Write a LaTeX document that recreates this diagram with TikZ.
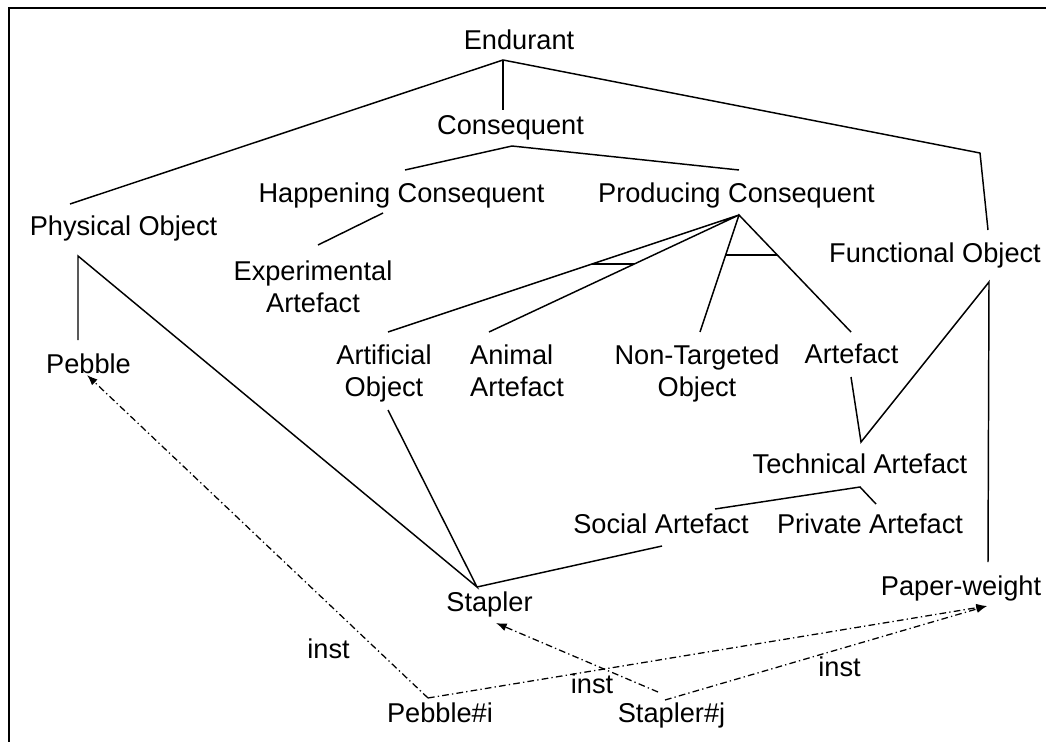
\documentclass[tikz,border=0pt]{standalone}
\usepackage{fontspec}
\setmainfont{Liberation Sans}
\usetikzlibrary{arrows.meta,calc}
\begin{document}
\begin{tikzpicture}[x=0.75pt,y=-0.75pt,
  lbl/.style={font=\fontsize{20.4}{24}\selectfont, inner sep=0pt, anchor=base},
  lbl2/.style={lbl, align=center},
  tree/.style={line width=1.1pt, line join=miter},
  instof/.style={line width=0.95pt, dash pattern=on 5pt off 2.4pt on 1pt off 2.4pt,
                 -{Latex[length=8pt,width=6pt]}},
  frame/.style={line width=1.3pt}]
\useasboundingbox (0,0) rectangle (1046,742);

% open frame
\draw[frame] (9,742) -- (9,8) -- (1046,8);

% class labels (two-line labels sit on the baseline of their last line)
\node[lbl] (endurant) at (519,50) {Endurant};
\node[lbl] (conseq) at (510.5,134) {Consequent};
\node[lbl] (happ) at (401.5,202) {Happening Consequent};
\node[lbl] (prod) at (736.5,202) {Producing Consequent};
\node[lbl] (phys) at (123.5,235) {Physical Object};
\node[lbl] (func) at (935,262) {Functional Object};
\node[lbl2] (expart) at (313,312) {Experimental\\Artefact};
\node[lbl] (pebble) at (88.5,373) {Pebble};
\node[lbl2] (artobj) at (384,396) {Artificial\\Object};
\node[lbl, align=left] (animal) at (517,396) {Animal\\Artefact};
\node[lbl2] (nontgt) at (697,396) {Non-Targeted\\Object};
\node[lbl] (artefact) at (851.5,363) {Artefact};
\node[lbl] (tech) at (860,473) {Technical Artefact};
\node[lbl] (social) at (661,533) {Social Artefact};
\node[lbl] (private) at (870,533) {Private Artefact};
\node[lbl] (stapler) at (489.5,611) {Stapler};
\node[lbl] (paper) at (961,595) {Paper-weight};
\node[lbl] (pebi) at (440,722) {Pebble\#i};
\node[lbl] (stapj) at (671.5,722) {Stapler\#j};
\node[lbl] (inst1) at (328.5,658) {inst};
\node[lbl] (inst2) at (592,693) {inst};
\node[lbl] (inst3) at (839.5,676) {inst};

% connection points
\coordinate (endJ) at (503,60);
\coordinate (conTop) at (503,110);
\coordinate (physTop) at (70,204);
\coordinate (funcBend) at (980,153);
\coordinate (funcTop) at (988,230);
\coordinate (conJ) at (512,146);
\coordinate (hapTop) at (405,170);
\coordinate (prodTop) at (739,170);
\coordinate (hapBot) at (383,213);
\coordinate (expTop) at (318,245);
\coordinate (prodJ) at (739,215);
\coordinate (artiTop) at (388,332);
\coordinate (animTop) at (489,332);
\coordinate (nonTop) at (700,332);
\coordinate (artfTop) at (851,332);
\coordinate (artiBot) at (388,410);
\coordinate (stapTop) at (477,587);
\coordinate (physBot) at (78,256);
\coordinate (pebTop) at (78,340);
\coordinate (socEnd) at (662,546);
\coordinate (techJ) at (860,487);
\coordinate (socR) at (715,509);
\coordinate (privTop) at (876,504);
\coordinate (artfBot) at (851,377);
\coordinate (techTop) at (861,442);
\coordinate (funcBot) at (989,282);
\coordinate (paperTop) at (988,562);
\coordinate (pebiA) at (428,698);
\coordinate (stjA) at (658,692);
\coordinate (stjB) at (665,700);
\coordinate (pebTip) at (87,375);
\coordinate (stapTip) at (496,623);
\coordinate (paperTip) at (987,606);

% subsumption lines
\draw[tree] (physTop) -- (endJ) -- (funcBend) -- (funcTop);
\draw[tree] (endJ) -- (conTop);
\draw[tree] (hapTop) -- (conJ) -- (prodTop);
\draw[tree] (hapBot) -- (expTop);
\draw[tree] (artiTop) -- (prodJ) -- (animTop);
\draw[tree] (nonTop) -- (prodJ) -- (artfTop);
\draw[tree] ($(prodJ)!0.419!(artiTop)$) -- ($(prodJ)!0.419!(animTop)$);
\draw[tree] ($(prodJ)!0.342!(nonTop)$) -- ($(prodJ)!0.342!(artfTop)$);
\draw[tree] (pebTop) -- (physBot) -- (stapTop) -- (artiBot);
\draw[tree] (stapTop) -- (socEnd);
\draw[tree] (socR) -- (techJ) -- (privTop);
\draw[tree] (artfBot) -- (techTop) -- (funcBot) -- (paperTop);

% instance-of links
\draw[instof] (pebiA) -- (pebTip);
\draw[instof] (pebiA) -- (paperTip);
\draw[instof] (stjA) -- (stapTip);
\draw[instof] (stjB) -- (paperTip);
\end{tikzpicture}
\end{document}
